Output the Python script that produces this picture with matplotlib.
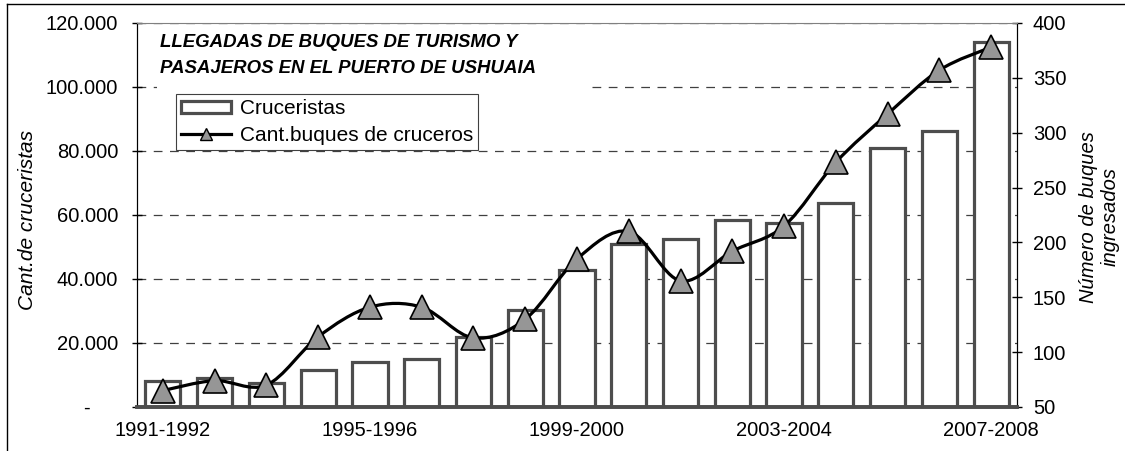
import matplotlib
matplotlib.use('Agg')
import matplotlib.pyplot as plt
from matplotlib.path import Path
from matplotlib.patches import PathPatch, Patch
from matplotlib.lines import Line2D
from matplotlib.ticker import FuncFormatter
import numpy as np

plt.rcParams['font.family'] = ['Liberation Sans', 'DejaVu Sans']

##### datos #####
temporadas = ["1991-1992", "1992-1993", "1993-1994", "1994-1995", "1995-1996",
              "1996-1997", "1997-1998", "1998-1999", "1999-2000", "2000-2001",
              "2001-2002", "2002-2003", "2003-2004", "2004-2005", "2005-2006",
              "2006-2007", "2007-2008"]
cruceristas = [8200, 9000, 7600, 11600, 14000, 15000, 22000, 30400, 42700, 50900,
               52400, 58500, 57400, 63700, 80900, 86100, 114200]
buques = [65, 74, 70, 114, 141, 141, 113, 130, 185, 210, 165, 192, 215, 273, 317, 357, 378]

ticks_izq = [0, 20000, 40000, 60000, 80000, 100000, 120000]
ticks_der = [50, 100, 150, 200, 250, 300, 350, 400]

gris_barra = '#4d4d4d'
gris_marca = '#969696'


##### curva suavizada (estilo excel) #####
def curva_suave(x, y):
    pts = np.column_stack([x, y]).astype(float)
    ext = np.vstack([pts[0], pts, pts[-1]])
    verts = [pts[0]]
    codes = [Path.MOVETO]
    for i in range(len(pts) - 1):
        p0, p1, p2, p3 = ext[i], ext[i + 1], ext[i + 2], ext[i + 3]
        verts += [p1 + (p2 - p0) / 6, p2 - (p3 - p1) / 6, p2]
        codes += [Path.CURVE4] * 3
    return Path(verts, codes)


W, H = 1125, 451
fig = plt.figure(figsize=(W / 100, H / 100), dpi=100)
ax = fig.add_axes([137 / W, 1 - 407 / H, 880 / W, 384 / H])
ax2 = ax.twinx()

x = np.arange(len(temporadas))

##### barras #####
ax.bar(x, cruceristas, width=0.68, color='white', edgecolor=gris_barra, linewidth=2.3, zorder=2)
ax.set_xlim(-0.5, len(temporadas) - 0.5)
ax.set_ylim(0, 120000)
ax.set_yticks(ticks_izq)
ax.yaxis.set_major_formatter(FuncFormatter(
    lambda v, p: "-     " if v == 0 else f"{int(v):,}".replace(",", ".")))
ax.yaxis.grid(True, linestyle=(0, (7, 6)), color='#404040', linewidth=0.9)
ax.set_axisbelow(True)
ax.set_xticks(x[::4])
ax.set_xticklabels(temporadas[::4])
ax.tick_params(axis='x', length=0, pad=10, labelsize=14.5)
ax.tick_params(axis='y', direction='inout', length=7, width=1, pad=10, labelsize=14.5)

##### linea #####
ax2.add_patch(PathPatch(curva_suave(x, buques), facecolor='none', edgecolor='black',
                        linewidth=2.3, zorder=3, capstyle='round', joinstyle='round'))
ax2.plot(x, buques, linestyle='none', marker='^', markersize=17, markerfacecolor=gris_marca,
         markeredgecolor='black', markeredgewidth=1.2, zorder=4)
ax2.set_ylim(50, 400)
ax2.set_yticks(ticks_der)
ax2.tick_params(axis='y', direction='inout', length=7, width=1, pad=8, labelsize=14.5)

for a in (ax, ax2):
    a.spines['top'].set_color('#808080')
    a.spines['left'].set_color('black')
    a.spines['right'].set_color('black')
    a.spines['bottom'].set_color(gris_barra)
    a.spines['bottom'].set_linewidth(2.6)
ax.spines['top'].set_visible(False)

##### titulo con fondo blanco #####
ax2.add_patch(plt.Rectangle((20 / 880, 315 / 384), 433 / 880, 64 / 384, transform=ax2.transAxes,
                            facecolor='white', edgecolor='none', zorder=1))
fig.text(160 / W, 1 - 47 / H, "LLEGADAS DE BUQUES DE TURISMO Y", fontsize=13.4,
         fontweight='bold', style='italic', va='baseline', ha='left')
fig.text(160 / W, 1 - 73 / H, "PASAJEROS EN EL PUERTO DE USHUAIA", fontsize=13.4,
         fontweight='bold', style='italic', va='baseline', ha='left')

##### leyenda #####
h_barra = Patch(facecolor='white', edgecolor=gris_barra, linewidth=2.3)
h_linea = Line2D([], [], color='black', linewidth=2.3, marker='^', markersize=9,
                 markerfacecolor=gris_marca, markeredgecolor='black', markeredgewidth=1)
leg = ax2.legend([h_barra, h_linea], ["Cruceristas", "Cant.buques de cruceros"],
                 loc='upper left', bbox_to_anchor=(176 / W, 1 - 94 / H), bbox_transform=fig.transFigure,
                 fontsize=15, frameon=True, fancybox=False, framealpha=1, edgecolor='#404040',
                 borderpad=0.25, borderaxespad=0, handlelength=2.4, handleheight=0.5,
                 handletextpad=0.4, labelspacing=0.38)
leg.get_frame().set_linewidth(0.8)
leg.set_zorder(5)

##### ejes #####
fig.text(28 / W, 1 - 220 / H, "Cant.de cruceristas", rotation=90, style='italic',
         fontsize=15, ha='center', va='center')
fig.text(1099 / W, 1 - 217 / H, "Número de buques\ningresados", rotation=90, style='italic',
         fontsize=14.5, ha='center', va='center', multialignment='center')

##### marco #####
fig.add_artist(Line2D([7 / W, 1], [1 - 4 / H, 1 - 4 / H], transform=fig.transFigure, color='black', lw=1))
fig.add_artist(Line2D([7 / W, 7 / W], [0, 1 - 4 / H], transform=fig.transFigure, color='black', lw=1))

fig.savefig('out.png', dpi=100)
